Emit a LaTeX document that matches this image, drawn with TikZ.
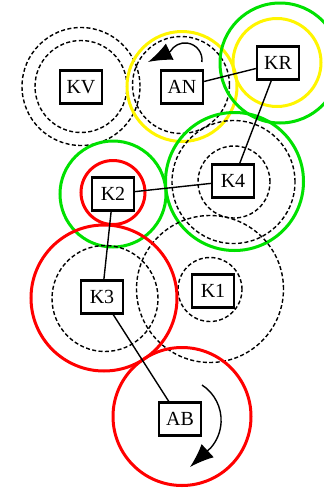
\documentclass[tikz,border=0pt]{standalone}
\usepackage{fontspec}
\setmainfont{Liberation Serif}
\usepackage{xcolor}
\usepackage{tikz}
\usetikzlibrary{arrows.meta, positioning}

\definecolor{ringgreen}{RGB}{0,225,0}
\definecolor{ringred}{RGB}{255,0,0}
\definecolor{ringyellow}{RGB}{255,245,0}

\begin{document}
\begin{tikzpicture}[
    x=0.5pt, y=-0.5pt,
    font=\normalsize,
    box/.style={rectangle, draw, fill=white, line width=1.2pt, minimum width=21pt, minimum height=16.5pt, inner sep=1pt},
    ring/.style={line width=1.5pt, draw=#1},
    halo/.style={line width=0.7pt, dash pattern=on 2pt off 1.2pt},
    link/.style={line width=0.7pt},
    turn/.style={line width=0.7pt, -{Latex[length=12pt, width=9pt]}},
]
    \clip (0,0) rectangle (324,493);

    % circles
    \draw[halo] (81,86.5) circle[radius=23pt];
    \draw[halo] (81,86.5) circle[radius=29.5pt];
    \draw[ring=ringyellow] (182,86.5) circle[radius=27.5pt];
    \draw[halo] (181,85) circle[radius=24.25pt];
    \draw[ring=ringgreen] (280,63) circle[radius=30pt];
    \draw[ring=ringyellow] (277,62.5) circle[radius=22pt];
    \draw[ring=ringgreen] (234.5,181.5) circle[radius=34.5pt];
    \draw[halo] (233.5,182) circle[radius=30.75pt];
    \draw[halo] (234,182) circle[radius=18pt];
    \draw[ring=ringgreen] (113,194) circle[radius=26.5pt];
    \draw[ring=ringred] (113,192.5) circle[radius=16pt];
    \draw[halo] (210,289) circle[radius=36.75pt];
    \draw[halo] (210,289.5) circle[radius=16pt];
    \draw[ring=ringred] (104,298) circle[radius=36.5pt];
    \draw[halo] (105,298.5) circle[radius=26.5pt];
    \draw[ring=ringred] (182,416.5) circle[radius=34.5pt];

    % nodes
    \node[box] (KV) at (81,87) {KV};
    \node[box] (AN) at (182,87) {AN};
    \node[box] (KR) at (278,63) {KR};
    \node[box] (K4) at (233,181) {K4};
    \node[box] (K2) at (113,194) {K2};
    \node[box] (K3) at (102,297) {K3};
    \node[box] (K1) at (213,291) {K1};
    \node[box] (AB) at (180,419) {AB};

    \draw[link] (AN) -- (KR);
    \draw[link] (KR) -- (K4);
    \draw[link] (K4) -- (K2);
    \draw[link] (K2) -- (K3);
    \draw[link] (K3) -- (AB);

    % rotation arrows
    \draw[turn] (201.9,62) arc (-7:150:8.5pt) -- (148,62);
    \draw[turn] (202,385) arc (57:-41:21pt) -- (190,467);
\end{tikzpicture}
\end{document}
